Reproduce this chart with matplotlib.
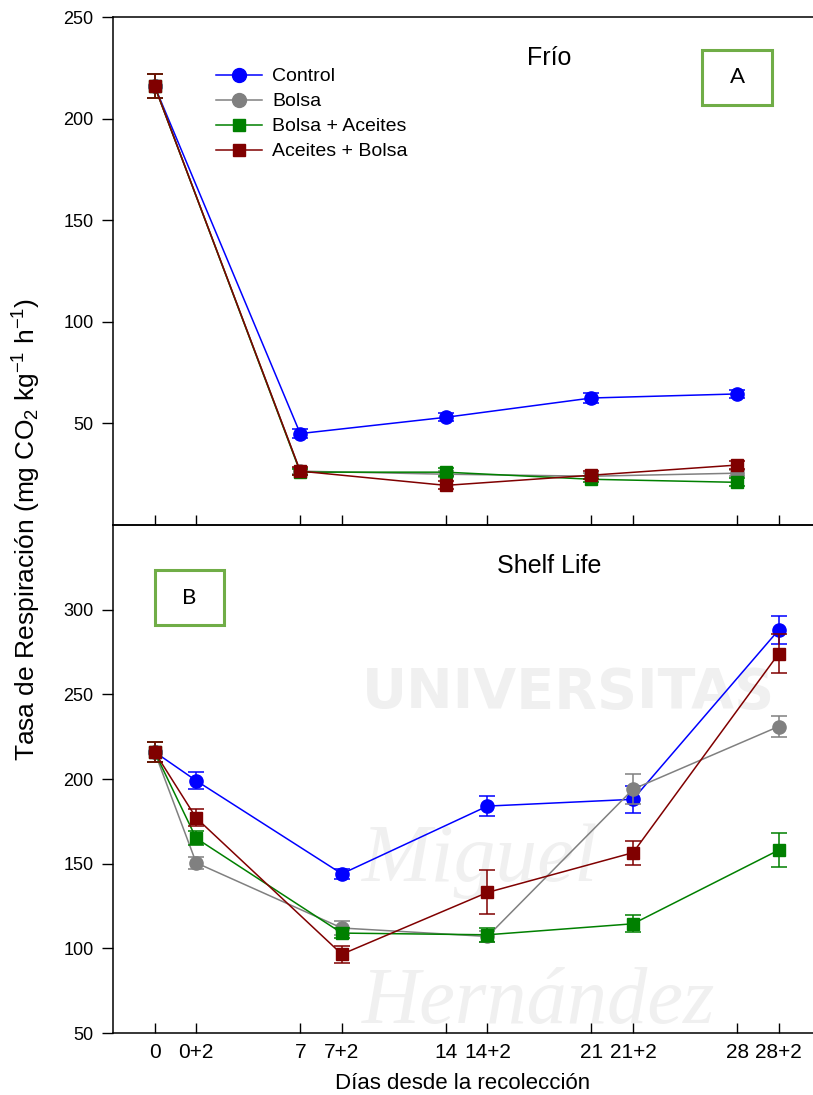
import matplotlib
matplotlib.use("Agg")
import matplotlib.pyplot as plt
from matplotlib.patches import Rectangle
from matplotlib.lines import Line2D

plt.rcParams['font.family'] = ['Liberation Sans', 'DejaVu Sans']
plt.rcParams['mathtext.fontset'] = 'custom'
plt.rcParams['mathtext.rm'] = 'Liberation Sans'
plt.rcParams['mathtext.it'] = 'Liberation Sans:italic'

# x positions (days) and labels
tick_pos = [0, 2, 7, 9, 14, 16, 21, 23, 28, 30]
tick_labels = ['0', '0+2', '7', '7+2', '14', '14+2', '21', '21+2', '28', '28+2']

# panel A: cold storage
days_frio = [0, 7, 14, 21, 28]
frio_control = [216, 45, 53, 62.5, 64.5]
frio_control_err = [6, 2, 2, 2.5, 2]
frio_bolsa = [216, 26.5, 25, 24, 25.5]
frio_bolsa_err = [6, 1.5, 1.5, 1.5, 1.5]
frio_bolsa_aceites = [216, 26, 26, 22.5, 21]
frio_bolsa_aceites_err = [6, 1.5, 2, 1.5, 2]
frio_aceites_bolsa = [216, 26.5, 19.5, 24.5, 29.5]
frio_aceites_bolsa_err = [6, 2, 2, 2, 2]

# panel B: shelf life
days_shelf = [0, 2, 9, 16, 23, 30]
shelf_control = [216, 199, 144, 184, 188, 288]
shelf_control_err = [6, 5, 3, 6, 8, 8]
shelf_bolsa = [216, 150.5, 112, 107, 194, 231]
shelf_bolsa_err = [6, 3.5, 4, 3, 9, 6]
shelf_bolsa_aceites = [216, 165, 109, 108, 114.5, 158]
shelf_bolsa_aceites_err = [6, 4, 3, 4, 5, 10]
shelf_aceites_bolsa = [216, 177, 96.5, 133, 156.5, 274]
shelf_aceites_bolsa_err = [6, 5, 5, 13, 7, 11.5]

names = ['Control', 'Bolsa', 'Bolsa + Aceites', 'Aceites + Bolsa']
colors = ['#0000ff', '#808080', '#008000', '#800000']
markers = ['o', 'o', 's', 's']
msizes = [9.5, 9.5, 8.5, 8.5]

W, H = 813, 1095
fig = plt.figure(figsize=(W / 100, H / 100), dpi=100)

def px_axes(left, top, right, bottom):
    return fig.add_axes([left / W, 1 - bottom / H, (right - left) / W, (bottom - top) / H])

ax1 = px_axes(113, 17, 813, 525)
ax2 = px_axes(113, 525, 813, 1033)

# faint watermark behind panel B
wm = '#f0f0f0'
ax2.text(0.355, 0.64, 'UNIVERSITAS', transform=ax2.transAxes, fontsize=40,
         fontweight='bold', color=wm, zorder=0, family='DejaVu Sans')
ax2.text(0.355, 0.3, 'Miguel', transform=ax2.transAxes, fontsize=60,
         style='italic', color=wm, zorder=0, family='Liberation Serif')
ax2.text(0.355, 0.02, 'Hernández', transform=ax2.transAxes, fontsize=58,
         style='italic', color=wm, zorder=0, family='Liberation Serif')

frio = [(frio_control, frio_control_err), (frio_bolsa, frio_bolsa_err),
        (frio_bolsa_aceites, frio_bolsa_aceites_err), (frio_aceites_bolsa, frio_aceites_bolsa_err)]
shelf = [(shelf_control, shelf_control_err), (shelf_bolsa, shelf_bolsa_err),
         (shelf_bolsa_aceites, shelf_bolsa_aceites_err), (shelf_aceites_bolsa, shelf_aceites_bolsa_err)]

for i in range(4):
    ax1.errorbar(days_frio, frio[i][0], yerr=frio[i][1], color=colors[i], marker=markers[i],
                 markersize=msizes[i], lw=1.1, capsize=5.5, capthick=1.1, elinewidth=1.1,
                 zorder=3 + i)
    ax2.errorbar(days_shelf, shelf[i][0], yerr=shelf[i][1], color=colors[i], marker=markers[i],
                 markersize=msizes[i], lw=1.1, capsize=5.5, capthick=1.1, elinewidth=1.1,
                 zorder=3 + i)

for ax in (ax1, ax2):
    ax.set_xlim(-2, 31.65)
    ax.set_xticks(tick_pos)
    ax.spines['right'].set_visible(False)
    for s in ('left', 'bottom', 'top'):
        ax.spines[s].set_linewidth(1.1)
    ax.tick_params(axis='x', direction='in', length=7, width=1.0)
    ax.tick_params(axis='y', direction='out', length=8, width=1.0, labelsize=13, pad=6)
    ax.patch.set_alpha(0)

ax1.set_ylim(0, 250)
ax1.set_yticks([50, 100, 150, 200, 250])
ax1.tick_params(axis='x', labelbottom=False)

ax2.set_ylim(50, 350)
ax2.set_yticks([50, 100, 150, 200, 250, 300])
ax2.set_xticklabels(tick_labels, fontsize=15)
ax2.tick_params(axis='x', pad=7)
ax2.set_xlabel('Días desde la recolección', fontsize=16, labelpad=8)

fig.text(27 / W, 1 - 529 / H, 'Tasa de Respiración (mg CO$_2$ kg$^{-1}$ h$^{-1}$)',
         rotation=90, ha='center', va='center', fontsize=19)

ax1.text(0.623, 0.92, 'Frío', transform=ax1.transAxes, ha='center', va='center', fontsize=18)
ax2.text(0.623, 0.92, 'Shelf Life', transform=ax2.transAxes, ha='center', va='center', fontsize=18)

# letter boxes
box_green = '#70ad47'
ax1.add_patch(Rectangle((0.842, 0.827), 0.1, 0.108, transform=ax1.transAxes,
                        fill=False, edgecolor=box_green, lw=2.2, clip_on=False))
ax1.text(0.892, 0.881, 'A', transform=ax1.transAxes, ha='center', va='center', fontsize=16,
         family='Lato')
ax2.add_patch(Rectangle((0.0596, 0.803), 0.099, 0.108, transform=ax2.transAxes,
                        fill=False, edgecolor=box_green, lw=2.2, clip_on=False))
ax2.text(0.109, 0.857, 'B', transform=ax2.transAxes, ha='center', va='center', fontsize=16,
         family='Lato')

handles = [Line2D([], [], color=colors[i], marker=markers[i], markersize=msizes[i] + 0.5, lw=1.1)
           for i in range(4)]
ax1.legend(handles, names, loc='upper left', bbox_to_anchor=(0.147, 0.9), frameon=False,
           fontsize=14, handlelength=2.35, handletextpad=0.55, labelspacing=0.38,
           borderpad=0, borderaxespad=0)

fig.savefig('out.png', dpi=100)
